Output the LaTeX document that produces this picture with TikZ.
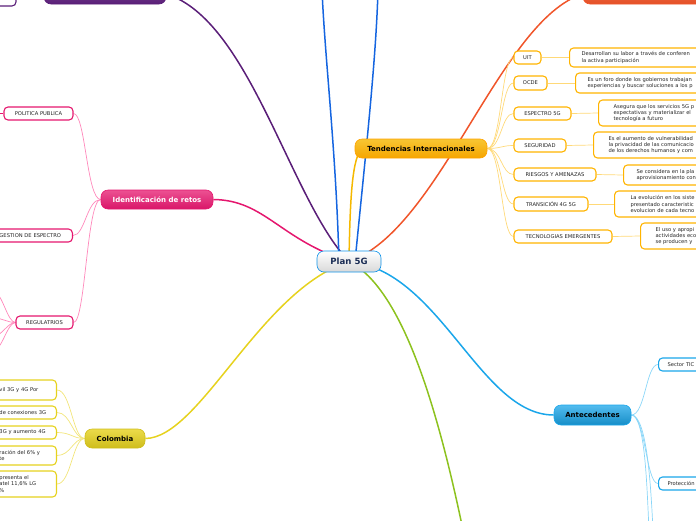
\documentclass[tikz,border=0pt]{standalone}
\usepackage{fontspec}
\setmainfont{DejaVu Sans}
\usetikzlibrary{backgrounds}
\definecolor{purpC}{HTML}{5A1E78}
\definecolor{blueC}{HTML}{1565E0}
\definecolor{amberC}{HTML}{F5B800}
\definecolor{orangeC}{HTML}{F0552A}
\definecolor{pinkC}{HTML}{E5176E}
\definecolor{yellowC}{HTML}{E6D21E}
\definecolor{cyanC}{HTML}{1AA6EA}
\definecolor{greenC}{HTML}{8DC21F}
\definecolor{amberL}{HTML}{FFD978}
\definecolor{pinkL}{HTML}{FF88BB}
\definecolor{yellowL}{HTML}{F2E57A}
\definecolor{cyanL}{HTML}{8AD6F8}
\definecolor{amberB}{HTML}{FFB400}
\definecolor{navyT}{HTML}{1B2D55}
\begin{document}
\begin{tikzpicture}[x=1pt,y=-1pt,
  mainnode/.style={rounded corners=7pt, minimum height=19pt, inner sep=0pt,
    font=\bfseries\fontsize{7}{8}\selectfont, line width=0.6pt},
  subbox/.style={draw, fill=white, rounded corners=4pt, line width=1.1pt,
    minimum height=13pt, inner sep=0pt, font=\fontsize{5.2}{6.3}\selectfont, text=black!85},
  descbox/.style={subbox, anchor=west, align=left, text width=170pt},
  branch/.style={line width=1.5pt},
  twig/.style={line width=0.7pt},
  tw/.style={subbox, draw=amberB},
  pk/.style={subbox, draw=pinkC},
  yl/.style={subbox, draw=yellowC, anchor=east, align=left, text width=52pt, inner xsep=5pt},
  cy/.style={subbox, draw=cyanC, anchor=west, align=left, text width=100pt, inner xsep=9pt},
]
\useasboundingbox (0,0) rectangle (696,520);
\clip (0,0) rectangle (696,520);

% central
\node[mainnode, draw=blueC!70!cyan, top color=white, bottom color=black!15, minimum width=64pt, minimum height=21pt,
  font=\bfseries\fontsize{8.6}{9}\selectfont, text=navyT] (plan) at (349,261.5) {Plan 5G};

% main branches
\node[mainnode, draw=amberB!90!red, top color=amberC!80, bottom color=amberC!90!red, minimum width=132pt] (tend) at (421,148.5) {Tendencias Internacionales};
\node[mainnode, draw=pinkC, top color=pinkC!75, bottom color=pinkC!95!black, text=white, minimum width=112pt] (iden) at (157,199.5) {Identificación de retos};
\node[mainnode, draw=yellowC!90!black, top color=yellowC!80, bottom color=yellowC!90!black, minimum width=60pt] (col) at (115,438.5) {Colombia};
\node[mainnode, draw=cyanC, top color=cyanC!75, bottom color=cyanC!85!black, minimum width=77pt, minimum height=20pt] (ante) at (592.5,415) {Antecedentes};
\node[mainnode, draw=purpC, top color=purpC!80, bottom color=purpC, minimum width=122pt, minimum height=20pt] (purp) at (105,-6) {};
\node[mainnode, draw=orangeC, top color=orangeC!85, bottom color=orangeC!95!black, minimum width=134pt, minimum height=20pt] (orng) at (650,-6) {};
\node[subbox, draw=purpC, minimum width=36pt, minimum height=20pt] (purpbox) at (-2,-4) {};

\coordinate (bl1) at (322,-10);
\coordinate (bl2) at (378,-10);
\coordinate (grn) at (463,530);

% Tendencias children
\node[tw, minimum width=27pt] (uit) at (527.5,57.5) {UIT};
\node[tw, minimum width=33pt, minimum height=14pt] (ocde) at (530.5,83) {OCDE};
\node[tw, minimum width=57pt] (esp) at (542.5,113.5) {ESPECTRO 5G};
\node[tw, minimum width=52pt] (seg) at (540,145.5) {SEGURIDAD};
\node[tw, minimum width=82pt] (ries) at (555,174.5) {RIESGOS Y AMENAZAS};
\node[tw, minimum width=74pt, minimum height=14pt] (tran) at (551,204) {TRANSICIÓN 4G 5G};
\node[tw, minimum width=98pt] (tecn) at (563,236.5) {TECNOLOGIAS EMERGENTES};

\node[descbox, draw=amberB, inner xsep=12pt, minimum height=19pt] (duit) at (569,57.5) {Desarrollan su labor a través de conferen\\la activa participación};
\node[descbox, draw=amberB, inner xsep=12pt, minimum height=20pt] (docde) at (575,83) {Es un foro donde los gobiernos trabajan\\experiencias y buscar soluciones a los p};
\node[descbox, draw=amberB, inner xsep=15pt, minimum height=26pt] (desp) at (598,113) {Asegura que los servicios 5G p\\expectativas y materializar el\\tecnología a futuro};
\node[descbox, draw=amberB, inner xsep=15pt, minimum height=26pt] (dseg) at (593,145) {Es el aumento de vulnerabilidad\\la privacidad de las comunicacio\\de los derechos humanos y com};
\node[descbox, draw=amberB, inner xsep=13pt, minimum height=20pt] (dries) at (623,175) {Se considera en la pla\\aprovisionamiento con};
\node[descbox, draw=amberB, inner xsep=16pt, minimum height=26pt] (dtran) at (614,204) {La evolución en los siste\\presentado caracteristic\\evolucion de cada tecno};
\node[descbox, draw=amberB, inner xsep=15pt, minimum height=26pt] (dtecn) at (640,236) {El uso y apropi\\actividades eco\\se producen y};

% Identificacion children
\node[pk, minimum width=69pt] (pol) at (38.5,113.5) {POLITICA PUBLICA};
\node[pk, anchor=east, align=left, text width=68pt, inner xsep=5pt] (gest) at (73,235.5) {GESTION DE ESPECTRO};
\node[pk, minimum width=57pt] (reg) at (44.5,322.5) {REGULATRIOS};
\coordinate (polL) at (-6,113.5);
\coordinate (rg1) at (-6,292);
\coordinate (rg2) at (-6,318);
\coordinate (rg3) at (-6,336);
\coordinate (rg4) at (-6,350);

% Colombia children
\node[yl, minimum height=20pt] (cb1) at (57,390) {vil 3G y 4G Por};
\node[yl] (cb2) at (57,412.5) {de conexiones 3G};
\node[yl] (cb3) at (57,432.5) {3G y aumento 4G};
\node[yl, minimum height=19pt] (cb4) at (57,455.5) {ración del 6\% y\\te};
\node[yl, minimum height=26pt] (cb5) at (57,484) {presenta el\\atel 11,6\% LG\\\%};

% Antecedentes children
\node[cy] (sect) at (658,364.5) {Sector TIC};
\node[cy] (prot) at (658,483.5) {Protección};
\coordinate (an1) at (649,530);
\coordinate (an2) at (653,530);

\begin{scope}[on background layer]
  \draw[branch, purpC] (plan.center) .. controls (290,200) and (250,20) .. (purp.east);
  \draw[branch, blueC] ([xshift=-10pt]plan.center) .. controls (336,150) and (325,60) .. (bl1);
  \draw[branch, blueC] ([xshift=6pt]plan.center) .. controls (366,150) and (376,60) .. (bl2);
  \draw[branch, amberC] (plan.center) .. controls (350,200) and (352,155) .. ([xshift=8pt]tend.west);
  \draw[branch, orangeC] (plan.center) .. controls (440,230) and (500,20) .. (orng.west);
  \draw[branch, cyanC] (plan.center) .. controls (440,270) and (480,415) .. (ante.west);
  \draw[branch, greenC] (plan.center) .. controls (405,290) and (440,420) .. (grn);
  \draw[branch, yellowC] (plan.center) .. controls (260,290) and (200,438) .. (col.east);
  \draw[branch, pinkC] (plan.center) .. controls (280,240) and (265,200) .. (iden.east);

  \foreach \c in {uit,ocde,esp,seg,ries,tran,tecn}
    \draw[twig, amberL] (tend.east) .. controls +(14,0) and +(-12,0) .. (\c.west);
  \draw[twig, amberL] (uit.east) -- (duit.west);
  \draw[twig, amberL] (ocde.east) -- (docde.west);
  \draw[twig, amberL] (esp.east) -- (desp.west);
  \draw[twig, amberL] (seg.east) -- (dseg.west);
  \draw[twig, amberL] (ries.east) -- (dries.west);
  \draw[twig, amberL] (tran.east) -- (dtran.west);
  \draw[twig, amberL] (tecn.east) -- (dtecn.west);

  \foreach \c in {pol,gest,reg}
    \draw[twig, pinkL] (iden.west) .. controls +(-14,0) and +(12,0) .. (\c.east);
  \draw[line width=1.4pt, pinkC] (pol.west) -- (polL);
  \foreach \c in {rg1,rg2,rg3,rg4}
    \draw[twig, pinkL] (reg.west) .. controls +(-8,0) and +(8,0) .. (\c);

  \foreach \c in {cb1,cb2,cb3,cb4,cb5}
    \draw[twig, yellowL] (col.west) .. controls +(-12,0) and +(14,0) .. (\c.east);

  \draw[twig, cyanL] (ante.east) .. controls +(14,0) and +(-12,0) .. (sect.west);
  \draw[twig, cyanL] (ante.east) .. controls +(14,0) and +(-12,0) .. (prot.west);
  \draw[twig, cyanL] (ante.east) .. controls +(14,0) and +(-2,-40) .. (an1);
  \draw[twig, cyanL] (ante.east) .. controls +(16,0) and +(-2,-40) .. (an2);
\end{scope}
\end{tikzpicture}
\end{document}
